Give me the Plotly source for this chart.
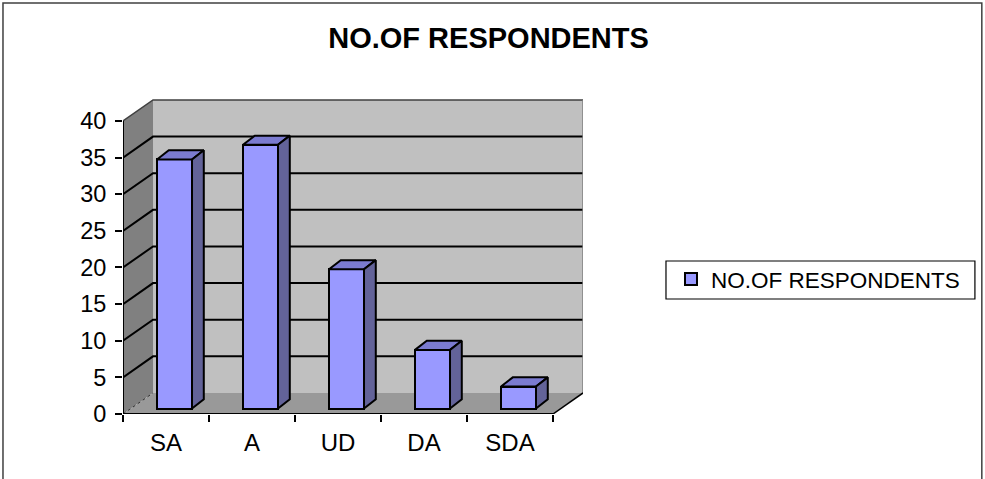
import plotly.graph_objects as go

# ---- data ----
categories = ["SA", "A", "UD", "DA", "SDA"]
respondents = [34, 36, 19, 8, 3]
y_ticks = [0, 5, 10, 15, 20, 25, 30, 35, 40]
series_name = "NO.OF RESPONDENTS"
title_text = "NO.OF RESPONDENTS"

# ---- pseudo-3D geometry (in axis units) ----
N = len(categories)
YMAX = 40
DX, DY = 0.349, 2.87          # wall depth offset
FX_FACE = 0.599               # bar front-face centre within category
BW = 0.407                    # bar face width
FY = 0.75                     # bar base (sits slightly back on floor)
BX, BY = 0.137, 1.25          # bar depth offset

FONT = "Liberation Sans, Arial, sans-serif"
FRONT = "#9999FF"
TOP = "#7B7BD0"
SIDE = "#636399"

fig = go.Figure()

centers = [i + FX_FACE for i in range(N)]
fig.add_trace(go.Bar(
    x=centers, y=respondents, base=FY, width=BW,
    marker=dict(color=FRONT, line=dict(color="black", width=2)),
    name=series_name, hoverinfo="skip",
))

# top and side faces
tx, ty, sx, sy = [], [], [], []
for c, v in zip(centers, respondents):
    l, r = c - BW / 2, c + BW / 2
    t, b = FY + v, FY
    tx += [l, r, r + BX, l + BX, l, None]
    ty += [t, t, t + BY, t + BY, t, None]
    sx += [r, r + BX, r + BX, r, r, None]
    sy += [b, b + BY, t + BY, t, b, None]
fig.add_trace(go.Scatter(x=tx, y=ty, mode="lines", fill="toself", fillcolor=TOP,
                         line=dict(color="black", width=2), showlegend=False, hoverinfo="skip"))
fig.add_trace(go.Scatter(x=sx, y=sy, mode="lines", fill="toself", fillcolor=SIDE,
                         line=dict(color="black", width=2), showlegend=False, hoverinfo="skip"))

shapes = []
def path(d, fill=None, color=None, width=0, dash="solid"):
    s = dict(type="path", path=d, xref="x", yref="y", layer="below",
             line=dict(color=color or "rgba(0,0,0,0)", width=width, dash=dash))
    if fill:
        s["fillcolor"] = fill
    shapes.append(s)

# back wall, side wall, floor
path(f"M{DX},{DY} L{N+DX},{DY} L{N+DX},{YMAX+DY} L{DX},{YMAX+DY} Z", fill="#C0C0C0")
path(f"M0,0 L{DX},{DY} L{DX},{YMAX+DY} L0,{YMAX} Z", fill="#808080")
path(f"M0,0 L{N},0 L{N+DX},{DY} L{DX},{DY} Z", fill="#999999")
# gridlines
for v in y_ticks[1:-1]:
    path(f"M0,{v} L{DX},{v+DY} L{N+DX},{v+DY}", color="black", width=2)
path(f"M0,{YMAX} L{DX},{YMAX+DY} L{N+DX},{YMAX+DY}", color="#404040", width=1.5)
path(f"M{N+DX},{DY} L{N+DX},{YMAX+DY}", color="#808080", width=1.5)
path(f"M0,0 L{DX},{DY}", color="#303030", width=1, dash="dot")
# floor edges and front value axis
path(f"M0,0 L{N},0", color="black", width=2)
path(f"M{N},0 L{N+DX},{DY}", color="black", width=1.5)
path(f"M0,0 L0,{YMAX}", color="black", width=2)

# chart-area border
shapes.append(dict(type="rect", xref="paper", yref="paper",
                   x0=-0.2609, x1=1.867, y0=-0.25, y1=1.305,
                   line=dict(color="#404040", width=1.5), layer="below"))
# legend frame
shapes.append(dict(type="rect", xref="paper", yref="paper",
                   x0=1.1804, x1=1.852, y0=0.3651, y1=0.4857,
                   line=dict(color="black", width=1.2), fillcolor="white", layer="below"))

fig.update_layout(
    width=985, height=479,
    margin=dict(l=123, r=402, t=99, b=65, pad=0),
    paper_bgcolor="white", plot_bgcolor="rgba(0,0,0,0)",
    font=dict(family=FONT, color="black", size=24),
    title=dict(text=f"<b>{title_text}</b>", font=dict(family=FONT, size=29, color="black"),
               x=0.496, xref="container", xanchor="center",
               y=1 - 37.5 / 479, yref="container", yanchor="middle"),
    shapes=shapes,
    showlegend=True,
    legend=dict(x=1.1913, y=0.4955, xanchor="left", yanchor="top",
                borderwidth=0, bgcolor="rgba(0,0,0,0)",
                font=dict(family=FONT, size=22.5, color="black")),
    bargap=0,
)
fig.update_xaxes(range=[0, N + DX], tickvals=[i + 0.5 for i in range(N)], ticktext=categories,
                 ticks="", showgrid=False, zeroline=False, showline=False,
                 ticklabelstandoff=12,
                 minor=dict(tickvals=list(range(N + 1)), ticks="outside", ticklen=7,
                            tickcolor="black", tickwidth=1.5, showgrid=False),
                 tickfont=dict(size=24), fixedrange=True)
fig.update_yaxes(range=[0, YMAX + 3.0], tickvals=y_ticks, ticks="outside", ticklen=7,
                 tickcolor="black", tickwidth=1.5, showgrid=False, zeroline=False,
                 showline=False, ticklabelstandoff=4, tickfont=dict(size=23.5), fixedrange=True)

fig.write_html("out.html")
